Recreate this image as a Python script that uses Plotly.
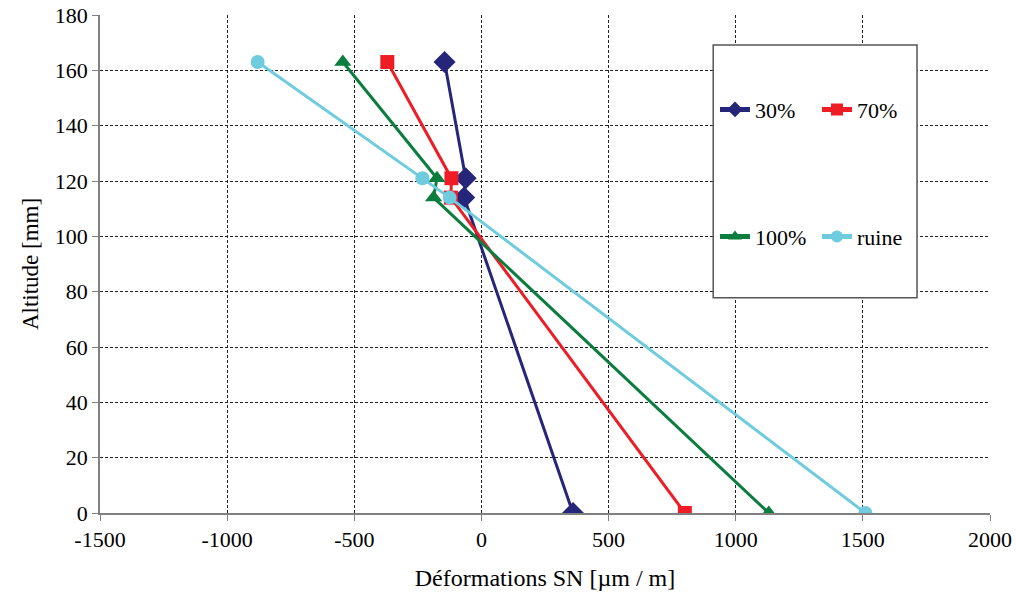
import plotly.graph_objects as go

altitude = [163, 121, 114, 0]
s30 = [-145, -62, -68, 360]
s70 = [-370, -118, -120, 800]
s100 = [-545, -175, -188, 1130]
sruine = [-880, -232, -125, 1510]

x_ticks = [-1500, -1000, -500, 0, 500, 1000, 1500, 2000]
x_ticktext = ["-1500", "-1000", "-500", "0", "500", "1000", "1500", "2000"]
y_ticks = [0, 20, 40, 60, 80, 100, 120, 140, 160, 180]

names = ["30%", "70%", "100%", "ruine"]
colors = ["#25257A", "#EE1C25", "#0B7D3E", "#6FCBDE"]
symbols = ["diamond", "square", "triangle-up", "circle"]
sizes = [17, 14, 15, 14]
series = [s30, s70, s100, sruine]
legends = ["legend", "legend", "legend2", "legend2"]

FONT = "Times New Roman"

fig = go.Figure()
for n, c, sym, sz, s, lg in zip(names, colors, symbols, sizes, series, legends):
    fig.add_trace(go.Scatter(
        x=s, y=altitude, name=n, mode="lines+markers",
        line=dict(color=c, width=3),
        marker=dict(symbol=sym, size=sz, color=c),
        legend=lg,
    ))

axis_common = dict(
    showgrid=True, gridcolor="#222222", griddash="3px,2px", gridwidth=1,
    showline=True, linecolor="#808080", linewidth=1.5,
    ticks="outside", ticklen=6, tickcolor="#808080",
    zeroline=False, mirror=False, automargin=False,
    ticklabeloverflow="allow",
    tickfont=dict(family=FONT, size=22, color="#000000"),
)

fig.update_xaxes(range=[-1500, 2000], tickmode="array", tickvals=x_ticks,
                 ticktext=x_ticktext, **axis_common,
                 title=dict(text="Déformations SN [µm / m]",
                            font=dict(family=FONT, size=24, color="#000000"),
                            standoff=18))
fig.update_yaxes(range=[0, 180], tickmode="array", tickvals=y_ticks, **axis_common,
                 title=dict(text="Altitude [mm]",
                            font=dict(family=FONT, size=23, color="#000000"),
                            standoff=10))

fig.add_shape(type="rect", xref="paper", yref="paper",
              x0=0.689, x1=0.918, y0=0.432, y1=0.94,
              line=dict(color="#555555", width=1.5), fillcolor="white", layer="above")

leg_common = dict(
    orientation="h", xanchor="left", yanchor="middle",
    font=dict(family=FONT, size=22, color="#000000"),
    bgcolor="rgba(0,0,0,0)", borderwidth=0,
    entrywidth=57, entrywidthmode="pixels", itemsizing="constant",
)
fig.update_layout(
    legend=dict(x=0.691, y=0.81, **leg_common),
    legend2=dict(x=0.691, y=0.555, **leg_common),
    width=1016, height=604,
    margin=dict(l=100, r=26, t=15, b=91),
    plot_bgcolor="white", paper_bgcolor="white",
    font=dict(family=FONT, color="#000000"),
)

fig.write_html("out.html", config={"displayModeBar": False},
               post_script="document.body.style.margin='0px';")
